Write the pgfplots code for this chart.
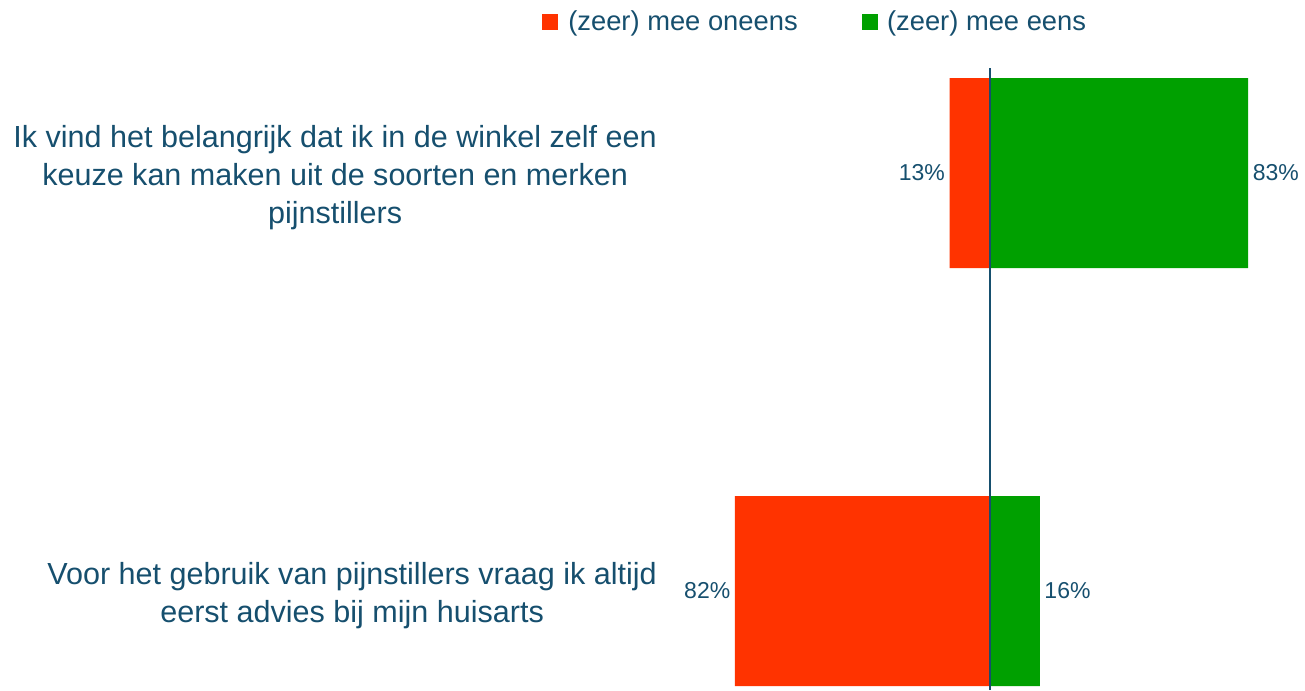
\documentclass[border=0pt]{standalone}
\usepackage{fontspec}
\setmainfont{Liberation Sans}
\usepackage{pgfplots}
\pgfplotsset{compat=1.18}
\definecolor{Oneens}{HTML}{FF3300}
\definecolor{Eens}{HTML}{00A000}
\definecolor{Tekst}{HTML}{164F6E}

\begin{document}
\begin{tikzpicture}
  % 1 px = 0.75pt, picture is 1305 x 690 px
  \useasboundingbox (0,0) rectangle (978.75pt,517.5pt);
  \begin{axis}[
    at={(509.25pt,0pt)}, anchor=south west,
    scale only axis,
    width=466.5pt, height=466.5pt,
    xbar=0pt,
    bar width=142.5pt,
    bar shift=0pt,
    xmin=-100, xmax=100,
    ymin=-0.2368, ymax=1.2512,
    axis line style={draw=none},
    xtick=\empty,
    ytick={0,1},
    yticklabels={
      {Voor het gebruik van pijnstillers vraag ik altijd\\eerst advies bij mijn huisarts},
      {Ik vind het belangrijk dat ik in de winkel zelf een\\keuze kan maken uit de soorten en merken\\pijnstillers}},
    major tick length=0pt,
    yticklabel style={align=center, text=Tekst, inner sep=0pt,
      font=\fontsize{22.9}{28.5}\selectfont, xshift=-16.5pt, yshift=-3.5pt},
    clip=false,
    point meta=explicit symbolic,
    nodes near coords,
    nodes near coords style={text=Tekst, font=\fontsize{17.25}{20}\selectfont},
    legend columns=2,
    legend style={at={(0.2190,1.074)}, anchor=center, draw=none,
      font=\fontsize{20.5}{24}\selectfont, text=Tekst,
      /tikz/every even column/.append style={column sep=46.5pt}},
  ]
    \addplot[fill=Oneens, draw=none,
      nodes near coords style={anchor=east},
      legend image code/.code={\fill[Oneens] (0pt,-6pt) rectangle (12pt,6pt); \path (18pt,0pt);}]
      coordinates {(-82,0) [82\%] (-13,1) [13\%]};
    \addlegendentry{(zeer) mee oneens}
    \addplot[fill=Eens, draw=none,
      nodes near coords style={anchor=west},
      legend image code/.code={\fill[Eens] (0pt,-6pt) rectangle (12pt,6pt); \path (16.5pt,0pt);}]
      coordinates {(16,0) [16\%] (83,1) [83\%]};
    \addlegendentry{(zeer) mee eens}
    % nullijn
    \addplot[sharp plot, draw=Tekst, line width=1.1pt, forget plot, nodes near coords=]
      coordinates {(0,-0.2368) (0,1.2512)};
  \end{axis}
\end{tikzpicture}
\end{document}
